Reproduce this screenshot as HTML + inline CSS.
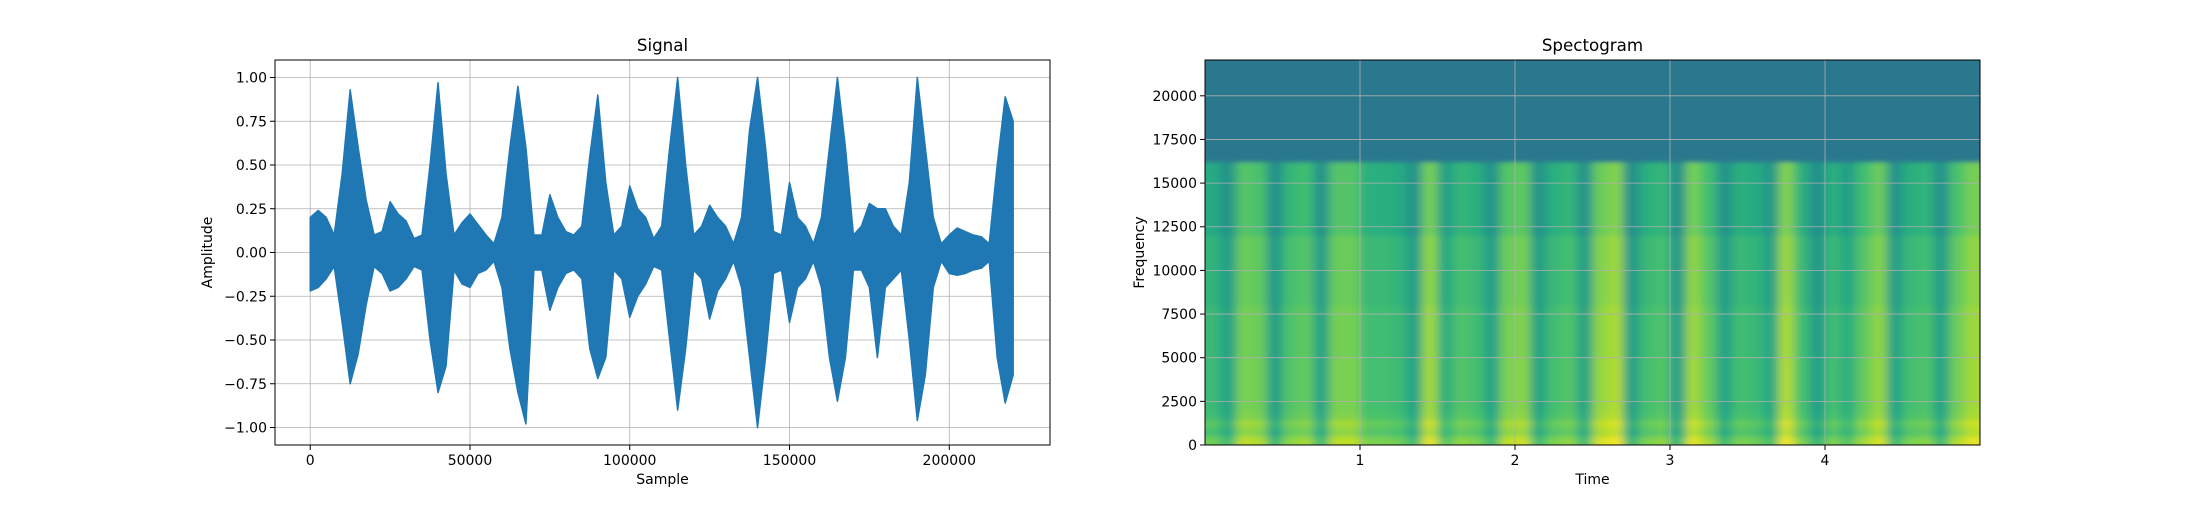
<!DOCTYPE html>
<html><head><meta charset="utf-8"><style>
body{margin:0;background:#fff}
svg text{font-family:"DejaVu Sans","Liberation Sans",sans-serif;fill:#000}
</style></head><body>
<svg id="fig" width="2200" height="500" xmlns="http://www.w3.org/2000/svg">
<defs>
<filter id="blur" x="-5%" y="-5%" width="110%" height="110%"><feGaussianBlur stdDeviation="5 2"/></filter>
<clipPath id="specclip"><rect x="1205" y="60" width="775" height="385"/></clipPath>
</defs>
<rect width="2200" height="500" fill="#fff"/>
<g id="sig"></g>
<g id="spec"></g>
</svg>
<script>
// Signal envelope data (per 2500-sample bin)
const sigBinSize = 2500;
const sigUpper = [.2,.24,.2,.1,.45,.93,.6,.3,.1,.12,.29,.22,.18,.08,.1,.5,.97,.45,.1,.17,.22,.16,.1,.05,.2,.6,.95,.6,.1,.1,.33,.2,.12,.1,.15,.55,.9,.4,.1,.15,.38,.25,.2,.08,.15,.6,1.0,.5,.1,.15,.27,.2,.15,.05,.2,.7,1.0,.6,.12,.1,.4,.2,.15,.05,.2,.6,1.0,.6,.1,.15,.28,.25,.25,.15,.1,.4,1.0,.6,.2,.05,.1,.14,.12,.1,.09,.05,.5,.89,.75];
const sigLower = [-.22,-.2,-.15,-.08,-.4,-.75,-.58,-.3,-.08,-.12,-.22,-.2,-.15,-.08,-.1,-.5,-.8,-.65,-.1,-.18,-.2,-.12,-.1,-.05,-.2,-.55,-.8,-.98,-.1,-.1,-.33,-.2,-.12,-.1,-.15,-.55,-.72,-.6,-.1,-.15,-.37,-.25,-.18,-.08,-.1,-.5,-.9,-.55,-.1,-.15,-.38,-.22,-.15,-.05,-.2,-.6,-1.0,-.6,-.12,-.1,-.4,-.2,-.15,-.05,-.2,-.6,-.85,-.6,-.1,-.1,-.2,-.6,-.2,-.15,-.1,-.5,-.96,-.7,-.2,-.05,-.12,-.13,-.12,-.1,-.09,-.05,-.6,-.86,-.7];
const sigXTicks = [0,50000,100000,150000,200000];
const sigYTicks = [-1,-0.75,-0.5,-0.25,0,0.25,0.5,0.75,1];
const sigYLabels = ["\u22121.00","\u22120.75","\u22120.50","\u22120.25","0.00","0.25","0.50","0.75","1.00"];
// Spectrogram data
const specTimes = [.05,.15,.25,.35,.45,.55,.65,.75,.85,.95,1.05,1.15,1.25,1.35,1.45,1.55,1.65,1.75,1.85,1.95,2.05,2.15,2.25,2.35,2.45,2.55,2.65,2.75,2.85,2.95,3.05,3.15,3.25,3.35,3.45,3.55,3.65,3.75,3.85,3.95,4.05,4.15,4.25,4.35,4.45,4.55,4.65,4.75,4.85,4.95];
const specLevels = [.66,.56,.78,.76,.54,.71,.74,.56,.78,.78,.68,.68,.66,.56,.84,.61,.71,.68,.56,.78,.8,.56,.68,.71,.56,.82,.86,.54,.68,.71,.54,.84,.74,.56,.68,.66,.58,.86,.68,.54,.68,.61,.74,.82,.56,.68,.7,.56,.76,.84];
const freqEdges = [0,500,1000,1500,2000,3000,5000,8000,12000,16200,22050];
const freqOffsets = [0.12,0.05,0.08,0.03,0.02,0.02,0.01,-0.01,-0.05,null];
const highLevel = 0.4;
const specXTicks = [1,2,3,4];
const specYTicks = [0,2500,5000,7500,10000,12500,15000,17500,20000];

const NS="http://www.w3.org/2000/svg";
function mk(parent,tag,attrs,text){const e=document.createElementNS(NS,tag);for(const k in attrs)e.setAttribute(k,attrs[k]);if(text!==undefined)e.textContent=text;parent.appendChild(e);return e;}
const viridis=["#440154","#482475","#414487","#355f8d","#2a788e","#21918c","#22a884","#44bf70","#7ad151","#bddf26","#fde725"];
function hex(c){return [parseInt(c.slice(1,3),16),parseInt(c.slice(3,5),16),parseInt(c.slice(5,7),16)];}
function vir(v){v=Math.max(0,Math.min(1,v));const f=v*10,i=Math.min(9,Math.floor(f)),t=f-i;const a=hex(viridis[i]),b=hex(viridis[i+1]);return "rgb("+a.map((x,j)=>Math.round(x+(b[j]-x)*t)).join(",")+")";}

const T=60,B=445,W=775;
// ---- Signal ----
(function(){
const g=document.getElementById('sig');const L=275,R=L+W;
const xmin=-11025,xmax=231525,ymin=-1.1,ymax=1.1;
const X=v=>L+(v-xmin)/(xmax-xmin)*W, Y=v=>T+(ymax-v)/(ymax-ymin)*(B-T);
const grid=mk(g,'g',{});
sigXTicks.forEach(t=>mk(grid,'line',{x1:X(t),x2:X(t),y1:T,y2:B,stroke:'#b0b0b0','stroke-width':0.8}));
sigYTicks.forEach(t=>mk(grid,'line',{x1:L,x2:R,y1:Y(t),y2:Y(t),stroke:'#b0b0b0','stroke-width':0.8}));
let up=[],lo=[];
sigUpper.forEach((v,i)=>{const x=X(i*sigBinSize);up.push(x+','+Y(v));});
sigLower.forEach((v,i)=>{const x=X(i*sigBinSize);lo.unshift(x+','+Y(v));});
const wave=mk(g,'polygon',{points:up.concat(lo).join(' '),fill:'#1f77b4',stroke:'#1f77b4','stroke-width':1.5,'stroke-linejoin':'round'});

mk(g,'rect',{x:L,y:T,width:W,height:B-T,fill:'none',stroke:'#000','stroke-width':1});
sigXTicks.forEach(t=>{mk(g,'line',{x1:X(t),x2:X(t),y1:B,y2:B+5,stroke:'#000'});const tx=mk(g,'text',{x:X(t),y:B+20,'font-size':14,'text-anchor':'middle'},String(t));});
sigYTicks.forEach((t,i)=>{mk(g,'line',{x1:L-5,x2:L,y1:Y(t),y2:Y(t),stroke:'#000'});const tx=mk(g,'text',{x:L-8,y:Y(t)+5,'font-size':14,'text-anchor':'end'},sigYLabels[i]);});
let e=mk(g,'text',{x:L+W/2,y:51,'font-size':16.7,'text-anchor':'middle'},'Signal');
e=mk(g,'text',{x:L+W/2,y:484,'font-size':14,'text-anchor':'middle'},'Sample');
e=mk(g,'text',{x:0,y:0,'font-size':14,'text-anchor':'middle',transform:'translate(212,'+(T+B)/2+') rotate(-90)'},'Amplitude');
})();
// ---- Spectrogram ----
(function(){
const g=document.getElementById('spec');const L=1205,R=L+W;
const xmin=0,xmax=5,ymin=0,ymax=22050;
const X=v=>L+(v-xmin)/(xmax-xmin)*W, Y=v=>T+(ymax-v)/(ymax-ymin)*(B-T);
const clip=mk(g,'g',{'clip-path':'url(#specclip)'});
const img=mk(clip,'g',{'shape-rendering':'crispEdges',filter:'url(#blur)'});
const nT=specTimes.length,nF=freqEdges.length-1;
specTimes.forEach((t,i)=>{
  let x0=X(t-0.05),x1=X(t+0.05)+0.6;
  if(i===0)x0-=25; if(i===nT-1)x1+=25;
  freqEdges.slice(0,-1).forEach((f,j)=>{
    const off=freqOffsets[j];const v=off===null?highLevel:specLevels[i]+off;
    let y0=Y(freqEdges[j+1]),y1=Y(f)+0.6;
    if(j===nF-1)y0-=25; if(j===0)y1+=25;
    mk(img,'rect',{x:x0,y:y0,width:x1-x0,height:y1-y0,fill:vir(v)});
  });
});
const grid=mk(g,'g',{});
specXTicks.forEach(t=>mk(grid,'line',{x1:X(t),x2:X(t),y1:T,y2:B,stroke:'#b0b0b0','stroke-width':0.8}));
specYTicks.forEach(t=>mk(grid,'line',{x1:L,x2:R,y1:Y(t),y2:Y(t),stroke:'#b0b0b0','stroke-width':0.8}));
mk(g,'rect',{x:L,y:T,width:W,height:B-T,fill:'none',stroke:'#000','stroke-width':1});
specXTicks.forEach(t=>{mk(g,'line',{x1:X(t),x2:X(t),y1:B,y2:B+5,stroke:'#000'});const tx=mk(g,'text',{x:X(t),y:B+20,'font-size':14,'text-anchor':'middle'},String(t));});
specYTicks.forEach(t=>{mk(g,'line',{x1:L-5,x2:L,y1:Y(t),y2:Y(t),stroke:'#000'});const tx=mk(g,'text',{x:L-8,y:Y(t)+5,'font-size':14,'text-anchor':'end'},String(t));});
let e=mk(g,'text',{x:L+W/2,y:51,'font-size':16.7,'text-anchor':'middle'},'Spectogram');
e=mk(g,'text',{x:L+W/2,y:484,'font-size':14,'text-anchor':'middle'},'Time');
e=mk(g,'text',{x:0,y:0,'font-size':14,'text-anchor':'middle',transform:'translate(1144,'+(T+B)/2+') rotate(-90)'},'Frequency');
})();
</script>
</body></html>
